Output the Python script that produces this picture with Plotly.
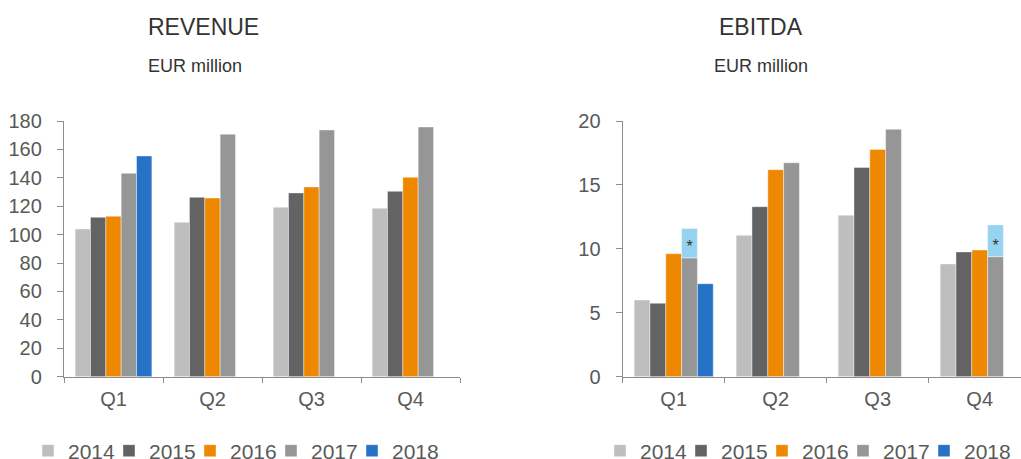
import plotly.graph_objects as go

quarters = ["Q1", "Q2", "Q3", "Q4"]
years = ["2014", "2015", "2016", "2017", "2018"]

revenue = {
    "2014": [104, 108.7, 119.3, 118.6],
    "2015": [112.2, 126.3, 129.4, 130.5],
    "2016": [113, 125.8, 133.6, 140.4],
    "2017": [143.2, 170.7, 173.7, 175.8],
    "2018": [155.4, None, None, None],
}
ebitda = {
    "2014": [6.0, 11.06, 12.63, 8.82],
    "2015": [5.75, 13.3, 16.37, 9.76],
    "2016": [9.62, 16.19, 17.78, 9.91],
    "2017": [9.3, 16.73, 19.35, 9.39],
    "2018": [7.27, None, None, None],
}
# adjusted 2017 EBITDA (marked with *)
ebitda_2017_adjusted = [11.6, None, None, 11.87]
adjusted_label = "*"

colors = {
    "2014": "#BEBEBE",
    "2015": "#636363",
    "2016": "#EE8800",
    "2017": "#969696",
    "2018": "#2672C7",
}
adj_color = "#95D3EE"

FONT = "Liberation Sans, Arial, sans-serif"
TXT = "#595959"
AX = "#8C8C8C"

fig = go.Figure()
for y in years:
    fig.add_trace(go.Bar(
        x=quarters, y=revenue[y], name=y, marker_color=colors[y],
        marker_line=dict(color="rgba(255,255,255,0.7)", width=0.6),
        offsetgroup=y, xaxis="x", yaxis="y", legend="legend",
    ))
for y in years:
    fig.add_trace(go.Bar(
        x=quarters, y=ebitda[y], name=y, marker_color=colors[y],
        marker_line=dict(color="rgba(255,255,255,0.7)", width=0.6),
        offsetgroup=y, xaxis="x2", yaxis="y2", legend="legend2",
    ))

adj_base = [b if a is not None else None for a, b in zip(ebitda_2017_adjusted, ebitda["2017"])]
adj_height = [a - b if a is not None else None for a, b in zip(ebitda_2017_adjusted, ebitda["2017"])]
fig.add_trace(go.Bar(
    x=quarters, y=adj_height, base=adj_base, name="2017 adj.",
    marker_color=adj_color, marker_line=dict(color="rgba(255,255,255,0.7)", width=0.6),
    offsetgroup="2017", xaxis="x2", yaxis="y2", showlegend=False,
    text=[adjusted_label if v is not None else None for v in adj_height],
    textposition="inside", insidetextanchor="start", constraintext="none",
    textfont=dict(size=16, color="#333333", family=FONT), textangle=0,
    hoverinfo="skip",
))

# invisible spacer entries so the last legend label is not clipped
for lg, xa, ya in (("legend", "x", "y"), ("legend2", "x2", "y2")):
    fig.add_trace(go.Scatter(
        x=[None], y=[None], name=" ", mode="markers",
        marker=dict(opacity=0, color="rgba(0,0,0,0)"),
        xaxis=xa, yaxis=ya, legend=lg, hoverinfo="skip",
    ))

W, H = 1021, 459
ydom = [1 - 376.7 / H, 1 - 121 / H]

axis_common = dict(
    showline=True, linecolor=AX, linewidth=1.3, showgrid=False, zeroline=False,
    ticks="outside", tickcolor=AX, tickwidth=1.3, automargin=False,
    tickfont=dict(family=FONT, size=20, color=TXT),
)

legend_common = dict(
    orientation="h", xanchor="left", y=1 - 451 / H, yanchor="middle",
    font=dict(family=FONT, size=21, color=TXT), entrywidth=36,
    bgcolor="rgba(0,0,0,0)", traceorder="normal",
)

fig.update_layout(
    width=W, height=H,
    margin=dict(l=0, r=0, t=0, b=0, autoexpand=False),
    paper_bgcolor="white", plot_bgcolor="white",
    barmode="group", bargap=0.225, bargroupgap=0,
    font=dict(family=FONT, color=TXT),
    xaxis=dict(domain=[64 / W, 460 / W], anchor="y", type="category",
               tickson="boundaries", ticklen=5, range=[-0.5, 3.5],
               ticklabelstandoff=4, **axis_common),
    yaxis=dict(domain=ydom, anchor="x", range=[0, 180], dtick=20, ticklen=6,
               ticklabelstandoff=11, **axis_common),
    xaxis2=dict(domain=[622.7 / W, 1.0], anchor="y2", type="category",
                tickson="boundaries", ticklen=5, range=[-0.5, 3.405],
                ticklabelstandoff=4, **axis_common),
    yaxis2=dict(domain=ydom, anchor="x2", range=[0, 20], dtick=5, ticklen=6,
                ticklabelstandoff=11, **axis_common),
    legend=dict(x=28 / W, **legend_common),
    legend2=dict(x=600 / W, **legend_common),
    annotations=[
        dict(text="REVENUE", x=146 / W, y=1 - 27 / H, xref="paper", yref="paper",
             xanchor="left", yanchor="middle", showarrow=False,
             font=dict(family=FONT, size=23, color="#333333")),
        dict(text="EUR million", x=146 / W, y=1 - 66 / H, xref="paper", yref="paper",
             xanchor="left", yanchor="middle", showarrow=False,
             font=dict(family=FONT, size=18, color="#333333")),
        dict(text="EBITDA", x=760.5 / W, y=1 - 27 / H, xref="paper", yref="paper",
             xanchor="center", yanchor="middle", showarrow=False,
             font=dict(family=FONT, size=23, color="#333333")),
        dict(text="EUR million", x=760.5 / W, y=1 - 66 / H, xref="paper", yref="paper",
             xanchor="center", yanchor="middle", showarrow=False,
             font=dict(family=FONT, size=18, color="#333333")),
    ],
)

fig.write_html(
    "out.html",
    config={"displayModeBar": False},
    post_script="document.body.style.margin='0';document.body.style.padding='0';",
)
